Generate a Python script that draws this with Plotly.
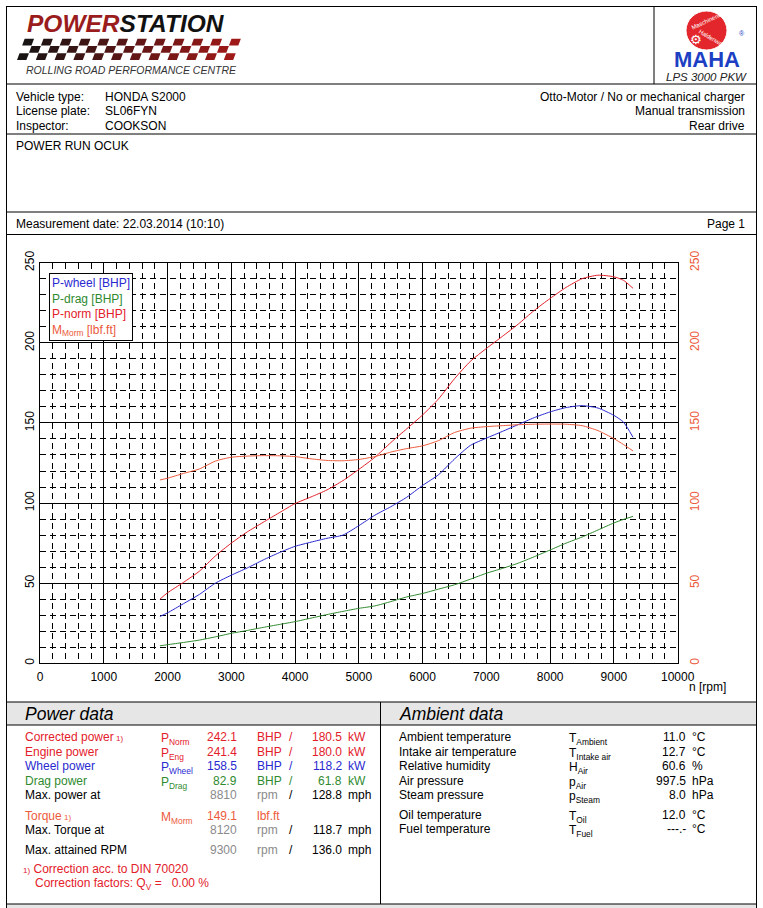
import plotly.graph_objects as go

W, H = 763, 908
FONT = "Liberation Sans, Arial, sans-serif"

# --- curve data ---
rpm = [1880, 2000, 2250, 2500, 2750, 3000, 3250, 3500, 3750, 4000, 4250, 4500,
       4750, 5000, 5250, 5500, 5750, 6000, 6250, 6500, 6750, 7000, 7250, 7500,
       7750, 8000, 8250, 8500, 8750, 9000, 9150, 9300]
p_wheel = [29.2, 31.5, 37.2, 43.0, 50.0, 55.0, 59.5, 64.5, 69.0, 73.0, 75.6, 78.0,
           80.0, 85.9, 92.4, 97.7, 103.6, 111.0, 117.7, 127.5, 136.0, 140.5, 144.7, 149.0,
           153.3, 156.9, 159.6, 160.8, 159.3, 154.7, 150.5, 141.0]
p_drag = [10.9, 11.6, 13.0, 14.5, 16.5, 18.7, 20.5, 22.4, 24.2, 26.0, 28.2, 30.4,
          32.4, 34.3, 35.8, 38.5, 41.4, 43.6, 46.3, 49.0, 52.5, 56.2, 59.2, 62.5,
          66.5, 70.7, 75.0, 78.8, 83.2, 87.6, 89.8, 91.7]
p_norm = [40.0, 44.0, 50.5, 57.5, 67.0, 75.0, 82.0, 88.0, 93.9, 99.7, 103.8, 108.2,
          114.0, 121.0, 128.5, 137.7, 146.3, 155.0, 165.0, 177.6, 188.5, 196.5, 204.0, 211.7,
          220.2, 227.7, 234.6, 240.0, 242.2, 241.2, 239.0, 234.0]
m_norm = [114.4, 115.5, 118.5, 121.3, 126.2, 128.6, 129.3, 129.6, 129.5, 129.0, 127.6, 126.6,
          126.4, 127.2, 129.0, 131.8, 134.0, 135.7, 139.0, 144.0, 146.7, 147.7, 148.3, 148.9,
          149.2, 149.3, 149.2, 148.3, 145.2, 140.2, 136.5, 132.5]

x_ticks = list(range(0, 10001, 1000))
x_tick_labels = [str(v) for v in x_ticks]
y_ticks = list(range(0, 251, 50))

# --- header / table texts ---
vehicle_labels = ["Vehicle type:", "License plate:", "Inspector:"]
vehicle_values = ["HONDA S2000", "SL06FYN", "COOKSON"]
vehicle_right = ["Otto-Motor / No or mechanical charger", "Manual transmission", "Rear drive"]

power_names = ["Corrected power", "Engine power", "Wheel power", "Drag power"]
power_syms = ["Norm", "Eng", "Wheel", "Drag"]
power_bhp = [242.1, 241.4, 158.5, 82.9]
power_kw = [180.5, 180.0, 118.2, 61.8]
max_power_rpm, max_power_mph = 8810, 128.8
torque_val = 149.1
max_torque_rpm, max_torque_mph = 8120, 118.7
max_rpm, max_rpm_mph = 9300, 136.0

amb_names = ["Ambient temperature", "Intake air temperature", "Relative humidity",
             "Air pressure", "Steam pressure", "Oil temperature", "Fuel temperature"]
amb_syms = ["T<sub>Ambient</sub>", "T<sub>Intake air</sub>", "H<sub>Air</sub>",
            "p<sub>Air</sub>", "p<sub>Steam</sub>", "T<sub>Oil</sub>", "T<sub>Fuel</sub>"]
amb_vals = ["11.0", "12.7", "60.6", "997.5", "8.0", "12.0", "---.-"]
amb_units = ["°C", "°C", "%", "hPa", "hPa", "°C", "°C"]

BLUE = "#2a2ad0"
GREEN = "#2f8a2f"
RED = "#e3202a"
ORANGE = "#ec5a3c"
GRAY = "#8a8a8a"


def fx(x):
    return x / W


def fy(y):
    return 1 - y / H


annotations = []
shapes = []


def txt(x, y, s, size=12, color="black", anchor="left", style="normal", weight="normal", angle=0):
    annotations.append(dict(
        x=fx(x), y=fy(y), xref="paper", yref="paper", text=s, showarrow=False,
        xanchor=anchor, yanchor="middle", textangle=angle, borderpad=0,
        font=dict(family=FONT, size=size, color=color, style=style, weight=weight)))


def hline(y, x0=6.5, x1=756.5, color="black"):
    shapes.append(dict(type="line", xref="paper", yref="paper", x0=fx(x0), x1=fx(x1),
                       y0=fy(y), y1=fy(y), line=dict(color=color, width=1)))


def vline(x, y0, y1):
    shapes.append(dict(type="line", xref="paper", yref="paper", x0=fx(x), x1=fx(x),
                       y0=fy(y0), y1=fy(y1), line=dict(color="black", width=1)))


def rect(x0, y0, x1, y1, fill, line=None):
    shapes.append(dict(type="rect", xref="paper", yref="paper", x0=fx(x0), x1=fx(x1),
                       y0=fy(y1), y1=fy(y0), fillcolor=fill, layer="below",
                       line=dict(width=0) if line is None else line))


fig = go.Figure()

fig.add_trace(go.Scatter(x=rpm, y=p_norm, mode="lines", line=dict(color=RED, width=1, shape="spline", smoothing=0.6)))
fig.add_trace(go.Scatter(x=rpm, y=p_wheel, mode="lines", line=dict(color=BLUE, width=1, shape="spline", smoothing=0.6)))
fig.add_trace(go.Scatter(x=rpm, y=p_drag, mode="lines", line=dict(color=GREEN, width=1, shape="spline", smoothing=0.6)))
fig.add_trace(go.Scatter(x=rpm, y=m_norm, mode="lines", yaxis="y2",
                         line=dict(color=ORANGE, width=1, shape="spline", smoothing=0.6)))

# --- page frame ---
rect(6.5, 702, 756.5, 725, "#e6e6e6")
rect(6.5, 904, 756.5, 908, "#e6e6e6")
vline(6.5, 6, 908)
vline(756.5, 6, 908)
hline(6.5)
hline(84)
hline(134)
hline(212)
hline(234.5)
hline(702)
hline(725)
hline(904)
vline(654, 6.5, 84)
vline(380.5, 702, 904)

# --- POWERSTATION logo ---
txt(26, 24, "<span style='color:#9a1c1c'>POWER</span>STATION", size=24.5, color="#111",
    style="italic", weight="bold")
ncols, nrows = 23, 3
cw, ch, skew = 9.4, 7.3, 0.35
for r in range(nrows):
    for c in range(ncols):
        if (r + c) % 2:
            continue
        t = c / (ncols - 1)
        col = "rgb(%d,%d,%d)" % (25 + 135 * t, 20 + 5 * t, 20 + 5 * t)
        yb = 60 - r * ch
        yt = yb - ch + 0.6
        xb = 17 + c * cw + r * ch * skew
        pts = [(xb, yb), (xb + cw, yb), (xb + cw + ch * skew, yt), (xb + ch * skew, yt)]
        path = "M " + " L ".join("%.5f,%.5f" % (fx(a), fy(b)) for a, b in pts) + " Z"
        shapes.append(dict(type="path", xref="paper", yref="paper", path=path,
                           fillcolor=col, line=dict(width=0)))
txt(25, 70, "ROLLING ROAD PERFORMANCE CENTRE", size=10.5, color="#333", style="italic")

# --- MAHA logo ---
shapes.append(dict(type="circle", xref="paper", yref="paper", x0=fx(686), x1=fx(727),
                   y0=fy(50), y1=fy(11), fillcolor="#e3262b", line=dict(color="white", width=1)))
txt(707, 60, "MAHA", size=22, color="#1c3fc4", anchor="center", weight="bold")
txt(709, 20, "Maschinenbau", size=6, color="white", anchor="center", angle=-25)
txt(713, 39, "Haldenwang", size=6, color="white", anchor="center", angle=30)
annotations.append(dict(x=fx(704), y=fy(30), xref="paper", yref="paper", text="⚙", showarrow=False,
                        font=dict(family="DejaVu Sans", size=13, color="white")))
txt(742, 33, "®", size=7, color="#1c3fc4", anchor="center")
txt(706, 77, "LPS 3000 PKW", size=11.5, color="#222", anchor="center", style="italic")

# --- vehicle info ---
for i in range(3):
    y = 97 + i * 14.5
    txt(15, y, vehicle_labels[i])
    txt(104, y, vehicle_values[i])
    txt(746, y, vehicle_right[i], anchor="right")
txt(15, 146, "POWER RUN OCUK")
txt(15, 224, "Measurement date: 22.03.2014 (10:10)")
txt(746, 224, "Page 1", anchor="right")

# --- chart legend and axis title ---
annotations.append(dict(
    x=fx(49), y=fy(273), xref="paper", yref="paper", xanchor="left", yanchor="top",
    showarrow=False, align="left", bgcolor="white", bordercolor="black", borderwidth=1,
    borderpad=2, font=dict(family=FONT, size=12),
    text=(f"<span style='color:{BLUE}'>P-wheel [BHP]</span><br>"
          f"<span style='color:{GREEN}'>P-drag [BHP]</span><br>"
          f"<span style='color:{RED}'>P-norm [BHP]</span><br>"
          f"<span style='color:{ORANGE}'>M<sub>Morm</sub> [lbf.ft]</span>")))
txt(707, 687, "n [rpm]", anchor="center")

# --- power data table ---
txt(24, 714, "Power data", size=17.5, style="italic")
row_y = [736.7, 751.7, 766, 780.7, 795]
name_cols = [RED, RED, BLUE, GREEN]
for i in range(4):
    y = row_y[i]
    c = name_cols[i]
    name = power_names[i] + ("<span style='font-size:8px'> 1)</span>" if i == 0 else "")
    txt(24, y, name, color=c)
    txt(160, y + 2, f"P<sub>{power_syms[i]}</sub>", color=c)
    txt(238, y, f"{power_bhp[i]:.1f}", color=c, anchor="right")
    txt(256, y, "BHP", color=c)
    txt(288, y, "/", color=c)
    txt(343, y, f"{power_kw[i]:.1f}", color=c, anchor="right")
    txt(347, y, "kW", color=c)
txt(24, 795, "Max. power at")
txt(238, 795, f"{max_power_rpm}", color=GRAY, anchor="right")
txt(256, 795, "rpm", color=GRAY)
txt(288, 795, "/")
txt(343, 795, f"{max_power_mph:.1f}", anchor="right")
txt(347, 795, "mph")

txt(24, 816, "Torque<span style='font-size:8px'> 1)</span>", color=ORANGE)
txt(160, 818, "M<sub>Morm</sub>", color=ORANGE)
txt(238, 816, f"{torque_val:.1f}", color=ORANGE, anchor="right")
txt(256, 816, "lbf.ft", color=ORANGE)
txt(24, 830, "Max. Torque at")
txt(238, 830, f"{max_torque_rpm}", color=GRAY, anchor="right")
txt(256, 830, "rpm", color=GRAY)
txt(288, 830, "/")
txt(343, 830, f"{max_torque_mph:.1f}", anchor="right")
txt(347, 830, "mph")
txt(24, 850, "Max. attained RPM")
txt(238, 850, f"{max_rpm}", color=GRAY, anchor="right")
txt(256, 850, "rpm", color=GRAY)
txt(288, 850, "/")
txt(343, 850, f"{max_rpm_mph:.1f}", anchor="right")
txt(347, 850, "mph")
txt(22, 869, "<span style='font-size:8px'>1)</span> Correction acc. to DIN 70020", color=RED)
txt(34, 884, "Correction factors: Q<sub>V</sub> =   0.00 %", color=RED)

# --- ambient data table ---
txt(398, 714, "Ambient data", size=17.5, style="italic")
amb_y = [737.3, 751.7, 766, 780.7, 795, 815, 829]
for i in range(len(amb_names)):
    y = amb_y[i]
    txt(398, y, amb_names[i])
    txt(568, y + 2, amb_syms[i])
    txt(687, y, amb_vals[i], anchor="right")
    txt(691, y, amb_units[i])

axis_common = dict(range=[0, 250], tickvals=y_ticks, tickangle=-90, ticks="",
                   automargin=False, zeroline=False, fixedrange=True)

fig.update_layout(
    width=W, height=H, autosize=False,
    margin=dict(l=0, r=0, t=0, b=0),
    paper_bgcolor="white", plot_bgcolor="white",
    showlegend=False,
    font=dict(family=FONT, size=12, color="black"),
    xaxis=dict(domain=[fx(40), fx(677.7)], range=[0, 10000], tickvals=x_ticks,
               ticktext=x_tick_labels, ticks="",
               showgrid=True, gridcolor="black", gridwidth=1,
               minor=dict(dtick=200, showgrid=True, gridcolor="black", gridwidth=1, griddash="6px,4px"),
               showline=True, linecolor="black", linewidth=1, mirror=True,
               zeroline=False, automargin=False, ticklabelstandoff=2,
               tickfont=dict(size=12, color="black")),
    yaxis=dict(domain=[fy(663.3), fy(262.7)], showgrid=True, gridcolor="black", gridwidth=1,
               minor=dict(dtick=10, showgrid=True, gridcolor="black", gridwidth=1, griddash="6px,4px"),
               showline=True, linecolor="black", linewidth=1, mirror=True,
               tickfont=dict(size=12, color="black"), ticklabelstandoff=0, **axis_common),
    yaxis2=dict(overlaying="y", side="right", showgrid=False, showline=False,
                tickfont=dict(size=12, color=ORANGE), ticklabelstandoff=8, **axis_common),
    shapes=shapes,
    annotations=annotations,
)

fig.write_html("out.html", config={"displayModeBar": False},
               post_script="document.body.style.margin='0';")
